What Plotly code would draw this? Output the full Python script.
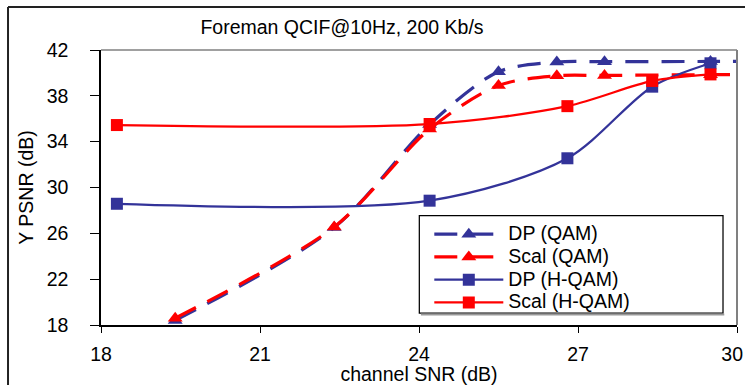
import plotly.graph_objects as go

# Channel SNR (dB) at which each configuration was measured
snr_qam = [19.4, 22.4, 24.2, 25.5, 26.6, 27.5, 29.5, 31.0]
snr_hqam = [18.3, 24.2, 26.8, 28.4, 29.5]

# Luma PSNR (dB)
dp_qam = [18.4, 26.5, 35.5, 40.1, 40.95, 40.98, 41.0, 41.0]
scal_qam = [18.6, 26.55, 35.1, 38.9, 39.75, 39.78, 39.85, 39.85]
dp_hqam = [28.58, 28.85, 32.55, 38.8, 40.84]
scal_hqam = [35.45, 35.54, 37.1, 39.3, 39.87]

x_ticks = [18, 21, 24, 27, 30]
# last label is nudged left with an en space so it stays inside the page
x_ticklabels = ["18", "21", "24", "27", "30\u2002"]
y_ticks = [18, 22, 26, 30, 34, 38, 42]

series_names = ["DP (QAM)", "Scal (QAM)", "DP (H-QAM)", "Scal (H-QAM)"]

FONT = "Arial, 'Liberation Sans', sans-serif"
BLUE = "#333399"
RED = "#FF0000"
TXT = 19.5


def legend_label(text):
    return f"<span style='font-size:{TXT}px'>{text}</span>"


fig = go.Figure()

series = [
    (snr_qam, dp_qam, series_names[0], BLUE, "23px,13px", "triangle-up", 3.2),
    (snr_qam, scal_qam, series_names[1], RED, "23px,13px", "triangle-up", 3.2),
    (snr_hqam, dp_hqam, series_names[2], BLUE, "solid", "square", 2.25),
    (snr_hqam, scal_hqam, series_names[3], RED, "solid", "square", 2.25),
]
for xs, ys, name, color, dash, symbol, width in series:
    fig.add_trace(go.Scatter(
        x=xs, y=ys, name=legend_label(name), mode="lines+markers",
        line=dict(color=color, width=width, dash=dash, shape="spline", smoothing=0.85),
        marker=dict(symbol=symbol, size=13 if symbol == "triangle-up" else 12,
                    color=color, line=dict(width=0)),
    ))

shapes = [
    # plot-area frame (top and right)
    dict(type="line", xref="paper", yref="paper", x0=0, x1=1, y0=1, y1=1,
         line=dict(color="#808080", width=1.5)),
    dict(type="line", xref="paper", yref="paper", x0=1, x1=1, y0=0, y1=1,
         line=dict(color="#808080", width=2)),
    # outer chart border
    dict(type="line", xref="paper", yref="paper", x0=-0.1462, x1=1.3, y0=1.1564, y1=1.1564,
         line=dict(color="#222222", width=2)),
    dict(type="line", xref="paper", yref="paper", x0=-0.1462, x1=-0.1462, y0=-0.5, y1=1.1564,
         line=dict(color="#222222", width=2)),
    # legend box
    dict(type="line", xref="paper", yref="paper", x0=0.503, x1=0.98, y0=0.038, y1=0.038,
         line=dict(color="#999999", width=2)),
    dict(type="rect", xref="paper", yref="paper", x0=0.5005, x1=0.978, y0=0.0436, y1=0.3975,
         line=dict(color="black", width=1.25), fillcolor="white", layer="below"),
]

fig.update_layout(
    width=745, height=385, autosize=False,
    margin=dict(l=101, r=8, t=50, b=60, pad=0),
    paper_bgcolor="white", plot_bgcolor="white",
    font=dict(family=FONT, size=TXT, color="black"),
    title=dict(text="Foreman QCIF@10Hz, 200 Kb/s", x=342 / 745, xanchor="center",
               y=1 - 27 / 385, yanchor="middle", yref="container",
               font=dict(family=FONT, size=TXT, color="black")),
    showlegend=True,
    legend=dict(x=0.5162, y=0.39, xanchor="left", yanchor="top",
                bgcolor="rgba(0,0,0,0)", borderwidth=0,
                font=dict(family=FONT, size=15.2, color="black"),
                itemwidth=69, tracegroupgap=0),
    shapes=shapes,
    xaxis=dict(range=[18, 30], tickvals=x_ticks, ticktext=x_ticklabels,
               showgrid=False, zeroline=False, showline=True, linecolor="black", linewidth=1.5,
               ticks="outside", ticklen=6, tickcolor="black", tickwidth=1,
               ticklabelstandoff=5, ticklabeloverflow="allow", automargin=False,
               title=dict(text="channel SNR (dB)", standoff=0,
                          font=dict(family=FONT, size=TXT))),
    yaxis=dict(range=[18, 42], tickvals=y_ticks, ticktext=[str(v) for v in y_ticks],
               showgrid=False, zeroline=False, showline=True, linecolor="black", linewidth=1.5,
               ticks="outside", ticklen=9, tickcolor="black", tickwidth=1,
               ticklabelstandoff=18, ticklabeloverflow="allow", automargin=False,
               title=dict(text="Y PSNR (dB)", standoff=8,
                          font=dict(family=FONT, size=TXT))),
)

fig.write_html("out.html")
